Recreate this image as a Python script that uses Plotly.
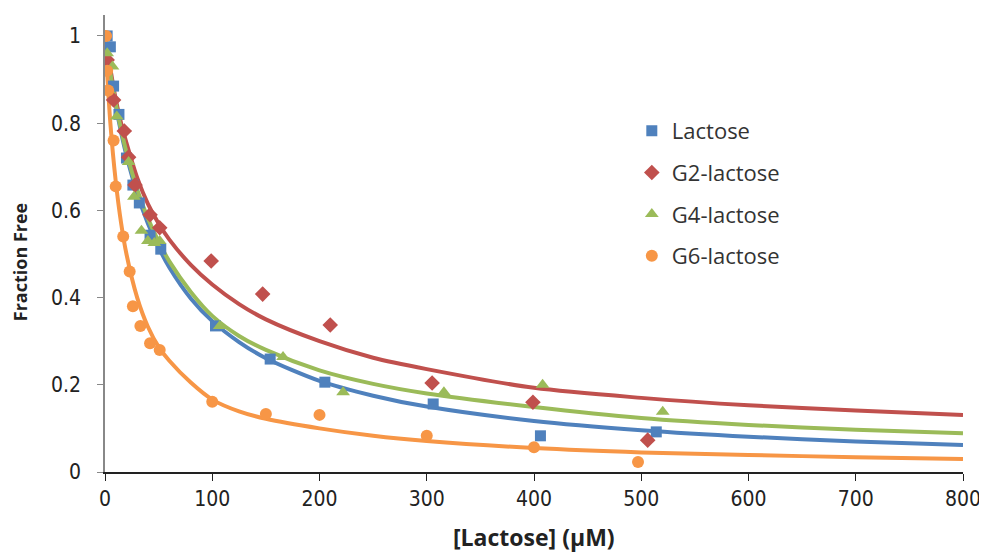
import plotly.graph_objects as go

# ---- measured data points ----
lac_x = [2, 5, 8, 13, 20, 26, 32, 42, 52, 103, 154, 205, 306, 406, 514]
lac_y = [1.0, 0.975, 0.885, 0.82, 0.72, 0.658, 0.617, 0.543, 0.511, 0.335, 0.259, 0.206, 0.156, 0.083, 0.092]

g2_x = [2, 8, 18, 22, 28, 42, 51, 99, 147, 210, 305, 399, 506]
g2_y = [0.945, 0.853, 0.782, 0.722, 0.658, 0.59, 0.56, 0.484, 0.408, 0.337, 0.204, 0.16, 0.073]

g4_x = [2, 7, 11, 22, 27, 34, 40, 46, 51, 107, 166, 222, 316, 408, 520]
g4_y = [0.96, 0.93, 0.815, 0.711, 0.631, 0.553, 0.53, 0.525, 0.53, 0.335, 0.264, 0.183, 0.183, 0.2, 0.138]

g6_x = [1, 2, 3, 8, 10, 17, 23, 26, 33, 42, 51, 100, 150, 200, 300, 400, 497]
g6_y = [1.0, 0.92, 0.875, 0.76, 0.655, 0.54, 0.46, 0.38, 0.335, 0.295, 0.28, 0.161, 0.133, 0.131, 0.083, 0.057, 0.023]

# ---- fitted curves ----
fit_x = [0, 5, 10, 15, 20, 30, 40, 50, 60, 80, 100, 125, 150, 200, 250, 300, 400, 500, 600, 700, 800]
fit_lac = [1.0, 0.914, 0.841, 0.779, 0.726, 0.639, 0.570, 0.515, 0.469, 0.398, 0.346, 0.298, 0.261,
           0.209, 0.175, 0.150, 0.117, 0.096, 0.081, 0.070, 0.062]
fit_g2 = [1.0, 0.925, 0.855, 0.80, 0.755, 0.675, 0.615, 0.57, 0.533, 0.475, 0.43, 0.385, 0.35,
          0.30, 0.262, 0.236, 0.193, 0.170, 0.153, 0.141, 0.131]
fit_g4 = [1.0, 0.915, 0.845, 0.785, 0.733, 0.648, 0.582, 0.528, 0.483, 0.413, 0.358, 0.312, 0.280,
          0.233, 0.202, 0.180, 0.149, 0.124, 0.108, 0.097, 0.089]
fit_g6 = [1.0, 0.80, 0.667, 0.571, 0.50, 0.40, 0.333, 0.287, 0.255, 0.205, 0.166, 0.139, 0.122,
          0.100, 0.083, 0.071, 0.055, 0.045, 0.039, 0.034, 0.030]

names = ["Lactose", "G2-lactose", "G4-lactose", "G6-lactose"]
colors = ["#4F81BD", "#C0504D", "#9BBB59", "#F79646"]
symbols = ["square", "diamond", "triangle-up", "circle"]
sizes = [11, 12, 12, 12]

fig = go.Figure()
fits = [fit_lac, fit_g2, fit_g4, fit_g6]
for fy, c in zip(fits, colors):
    fig.add_trace(go.Scatter(x=fit_x, y=fy, mode="lines",
                             line=dict(color=c, width=4, shape="spline", smoothing=0.8),
                             showlegend=False, hoverinfo="skip"))

pts = [(lac_x, lac_y), (g2_x, g2_y), (g4_x, g4_y), (g6_x, g6_y)]
for (px, py), n, c, s, sz in zip(pts, names, colors, symbols, sizes):
    fig.add_trace(go.Scatter(x=px, y=py, mode="markers", name=n, legendgroup=n,
                             marker=dict(color=c, symbol=s, size=sz, line=dict(width=0))))

tick_font = dict(family="Liberation Sans Narrow, DejaVu Sans Condensed, Liberation Sans, sans-serif",
                 size=21, color="#222")
title_font = "Open Sans, Noto Sans, sans-serif"
# page body has an 8px margin: figure sized to fill the remaining window
fig.update_layout(
    width=979, height=544,
    margin=dict(l=97, r=24, t=7, b=80),
    paper_bgcolor="white", plot_bgcolor="white",
    showlegend=True,
    legend=dict(x=0.614, y=0.792, xanchor="left", yanchor="top",
                font=dict(family=title_font, size=22, color="#333"),
                tracegroupgap=10, bgcolor="rgba(0,0,0,0)", traceorder="grouped"),
    xaxis=dict(range=[0, 800], tickvals=[0, 100, 200, 300, 400, 500, 600, 700, 800],
               showgrid=False, zeroline=False, showline=True, linecolor="#222", linewidth=1.5,
               ticks="outside", ticklen=7, tickcolor="#222", tickfont=tick_font,
               automargin=False),
    yaxis=dict(range=[0, 1.048], tickvals=[0, 0.2, 0.4, 0.6, 0.8, 1.0],
               ticktext=["0", "0.2", "0.4", "0.6", "0.8", "1"],
               showgrid=False, zeroline=False, showline=True, linecolor="#888", linewidth=1.5,
               ticks="outside", ticklen=6, tickcolor="#888", tickfont=tick_font,
               ticklabelstandoff=12, automargin=False),
    annotations=[
        dict(text="<b>[Lactose] (μM)</b>", xref="paper", yref="paper", x=0.5, y=-0.142,
             xanchor="center", yanchor="middle", showarrow=False,
             font=dict(family=title_font, size=23, color="#222")),
        dict(text="<b>Fraction Free</b>", xref="paper", yref="paper", x=-0.0991, y=0.459,
             xanchor="center", yanchor="middle", showarrow=False, textangle=-90,
             font=dict(family=title_font, size=18, color="#222")),
    ],
)

fig.write_html("out.html")
